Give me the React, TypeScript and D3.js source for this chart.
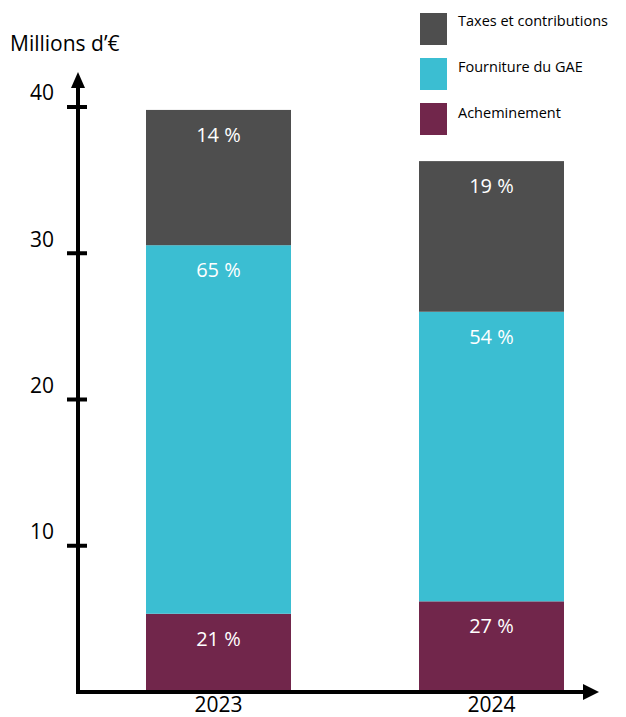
import React from "react";
import * as d3 from "d3";

const years = ["2023", "2024"];
const series = ["Acheminement", "Fourniture du GAE", "Taxes et contributions"];
const acheminement = [5.35, 6.2];
const fourniture = [25.2, 19.8];
const taxes = [9.25, 10.3];
const pctAcheminement = ["21 %", "27 %"];
const pctFourniture = ["65 %", "54 %"];
const pctTaxes = ["14 %", "19 %"];
const yTicks = [10, 20, 30, 40];
const legendOrder = ["Taxes et contributions", "Fourniture du GAE", "Acheminement"];

const colors: Record<string, string> = {
  "Acheminement": "#71264b",
  "Fourniture du GAE": "#3bbed2",
  "Taxes et contributions": "#4e4e4e",
};

const FONT = "Open Sans, 'Noto Sans', sans-serif";

export default function App() {
  const W = 626, H = 717;
  const y = d3.scaleLinear().domain([0, 40]).range([692, 107]);
  const xb = d3.scaleBand().domain(years).range([9.5, 700.5]).paddingInner(0.4689).paddingOuter(0.5);
  const rows = years.map((yr, i) => ({
    year: yr,
    Acheminement: acheminement[i],
    "Fourniture du GAE": fourniture[i],
    "Taxes et contributions": taxes[i],
  }));
  const stack = d3.stack<any>().keys(series)(rows);
  const labels: Record<string, string[]> = {
    "Acheminement": pctAcheminement,
    "Fourniture du GAE": pctFourniture,
    "Taxes et contributions": pctTaxes,
  };
  const axisX = 78;
  const axisY = 692;
  return (
    <svg width={W} height={H} style={{ position: "absolute", left: 0, top: 0 }} fontFamily={FONT}>
      <rect width={W} height={H} fill="#fff" />
      {stack.map((s) =>
        s.map((d, i) => (
          <g key={s.key + i}>
            <rect
              x={xb(years[i])!}
              y={y(d[1])}
              width={xb.bandwidth()}
              height={y(d[0]) - y(d[1])}
              fill={colors[s.key]}
            />
            <text
              x={xb(years[i])! + xb.bandwidth() / 2}
              y={y(d[1]) + 25}
              dy="0.35em"
              textAnchor="middle"
              fill="#fff"
              fontSize={20}
            >
              {labels[s.key][i]}
            </text>
          </g>
        ))
      )}
      {/* y axis */}
      <line x1={axisX} x2={axisX} y1={axisY + 2} y2={86} stroke="#000" strokeWidth={4} />
      <path d={`M${axisX - 7},${88} L${axisX},${72} L${axisX + 7},${88} Z`} fill="#000" />
      {yTicks.map((t) => (
        <g key={t}>
          <line x1={67} x2={87} y1={y(t)} y2={y(t)} stroke="#000" strokeWidth={4} />
          <text x={54} y={y(t) - 14} dy="0.35em" textAnchor="end" fontSize={21} fill="#000">
            {t}
          </text>
        </g>
      ))}
      {/* x axis */}
      <line x1={axisX - 2} x2={586} y1={axisY} y2={axisY} stroke="#000" strokeWidth={4} />
      <path d={`M${583},${684} L${599},${axisY} L${583},${700} Z`} fill="#000" />
      {years.map((yr) => (
        <text key={yr} x={xb(yr)! + xb.bandwidth() / 2} y={705} dy="0.35em" textAnchor="middle" fontSize={21} fill="#000">
          {yr}
        </text>
      ))}
      <text x={10} y={44} dy="0.35em" fontSize={21} fill="#000">Millions d’€</text>
      {legendOrder.map((k, i) => (
        <g key={k}>
          <rect x={420} y={13 + i * 45} width={27} height={32} fill={colors[k]} />
          <text x={458} y={21 + i * 46} dy="0.35em" fontSize={14.5} fill="#000">{k}</text>
        </g>
      ))}
    </svg>
  );
}
